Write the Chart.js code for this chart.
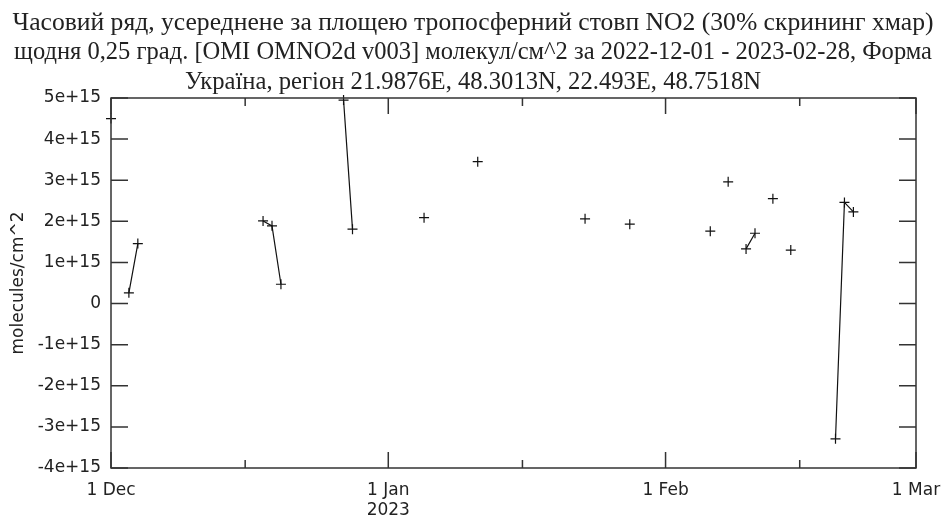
<!DOCTYPE html>
<html>
<head>
<meta charset="utf-8">
<script src="https://cdn.jsdelivr.net/npm/chart.js@4.4.1/dist/chart.umd.min.js"></script>
<style>
  html, body { margin: 0; padding: 0; background: #fff; }
  #no2 { display: block; }
</style>
</head>
<body>
<canvas id="no2" width="946" height="522"></canvas>
<script>
// daily area-averaged tropospheric NO2 column, days without retrieval are absent
const obsDates = [
  '2022-12-01', '2022-12-03', '2022-12-04', '2022-12-18', '2022-12-19', '2022-12-20',
  '2022-12-27', '2022-12-28', '2023-01-05', '2023-01-11', '2023-01-23', '2023-01-28',
  '2023-02-06', '2023-02-08', '2023-02-10', '2023-02-11', '2023-02-13', '2023-02-15',
  '2023-02-20', '2023-02-21', '2023-02-22'
];
const no2Values = [
  4.50e15, 0.26e15, 1.46e15, 2.01e15, 1.89e15, 0.47e15,
  4.95e15, 1.81e15, 2.09e15, 3.45e15, 2.06e15, 1.93e15,
  1.76e15, 2.96e15, 1.33e15, 1.71e15, 2.55e15, 1.30e15,
  -3.29e15, 2.46e15, 2.23e15
];

const startDate = '2022-12-01';
const endDate = '2023-03-01';
const majorTickDates = ['2022-12-01', '2023-01-01', '2023-02-01', '2023-03-01'];
const majorTickLabels = ['1 Dec', ['1 Jan', '2023'], '1 Feb', '1 Mar'];
const minorTickDates = ['2022-12-16', '2023-01-16', '2023-02-16'];
const yTicks = [-4e15, -3e15, -2e15, -1e15, 0, 1e15, 2e15, 3e15, 4e15, 5e15];

const titleLines = [
  'Часовий ряд, усереднене за площею тропосферний стовп NO2 (30% скрининг хмар)',
  'щодня 0,25 град. [OMI OMNO2d v003] молекул/см^2 за 2022-12-01 - 2023-02-28, Форма',
  'Україна, регіон 21.9876E, 48.3013N, 22.493E, 48.7518N'
];

const DAY = 86400000;
const dayIndex = s => (Date.parse(s + 'T00:00:00Z') - Date.parse(startDate + 'T00:00:00Z')) / DAY;

// one slot per calendar day so that only consecutive days get joined
const nDays = dayIndex(endDate);
const series = [];
for (let d = 0; d < nDays; d++) series.push({ x: d, y: null });
obsDates.forEach((s, i) => { series[dayIndex(s)].y = no2Values[i]; });

const majorTicks = majorTickDates.map(dayIndex);
const minorTicks = minorTickDates.map(dayIndex);

const fmtSci = v => {
  if (v === 0) return '0';
  return (v / 1e15) + 'e+15';
};

const axisFont = { family: "'DejaVu Sans', sans-serif", size: 17 };

// condensed serif title, each line squeezed into its own width
const titlePlugin = {
  id: 'narrowTitle',
  afterDraw(chart) {
    const { ctx, width } = chart;
    const maxW = [921, 918, 576];
    ctx.save();
    ctx.fillStyle = '#222';
    ctx.font = "26px 'Liberation Serif', serif";
    ctx.textAlign = 'center';
    ctx.textBaseline = 'alphabetic';
    titleLines.forEach((t, i) => {
      ctx.fillText(t, width / 2, 29.5 + i * 29.5, maxW[i]);
    });
    ctx.restore();
  }
};

// gnuplot-like frame: box on four sides, ticks pointing inward
const framePlugin = {
  id: 'frame',
  afterDatasetsDraw(chart) {
    const { ctx, chartArea: a, scales: { x, y } } = chart;
    ctx.save();
    ctx.strokeStyle = '#333';
    ctx.lineWidth = 1.5;
    ctx.strokeRect(a.left, a.top, a.right - a.left, a.bottom - a.top);
    ctx.beginPath();
    yTicks.forEach(v => {
      const py = y.getPixelForValue(v);
      ctx.moveTo(a.left, py); ctx.lineTo(a.left + 17, py);
      ctx.moveTo(a.right, py); ctx.lineTo(a.right - 17, py);
    });
    majorTicks.forEach(v => {
      const px = x.getPixelForValue(v);
      ctx.moveTo(px, a.bottom); ctx.lineTo(px, a.bottom - 16);
      ctx.moveTo(px, a.top); ctx.lineTo(px, a.top + 16);
    });
    minorTicks.forEach(v => {
      const px = x.getPixelForValue(v);
      ctx.moveTo(px, a.bottom); ctx.lineTo(px, a.bottom - 8);
      ctx.moveTo(px, a.top); ctx.lineTo(px, a.top + 8);
    });
    ctx.stroke();
    ctx.restore();
  }
};

new Chart(document.getElementById('no2'), {
  type: 'line',
  data: {
    datasets: [{
      data: series,
      borderColor: '#111',
      borderWidth: 1.2,
      pointStyle: 'cross',
      pointRadius: 5,
      pointBorderWidth: 1.2,
      pointBorderColor: '#111',
      pointHoverRadius: 5,
      spanGaps: false,
      tension: 0,
      clip: false
    }]
  },
  options: {
    responsive: false,
    animation: false,
    layout: { padding: { top: 98, left: 0, right: 0, bottom: 0 } },
    plugins: {
      legend: { display: false },
      tooltip: { enabled: false },
      title: { display: false }
    },
    scales: {
      x: {
        type: 'linear',
        min: 0,
        max: nDays,
        grid: { display: false, drawTicks: false },
        border: { display: false },
        afterBuildTicks: s => { s.ticks = majorTicks.map(v => ({ value: v })); },
        afterFit: s => { s.height = 54; s.paddingRight = 30; },
        ticks: {
          padding: 12,
          color: '#222',
          maxRotation: 0,
          autoSkip: false,
          font: axisFont,
          callback: v => majorTickLabels[majorTicks.indexOf(v)]
        }
      },
      y: {
        min: -4e15,
        max: 5e15,
        grid: { display: false, drawTicks: false },
        border: { display: false },
        afterBuildTicks: s => { s.ticks = yTicks.map(v => ({ value: v })); },
        afterFit: s => { s.width = 111; },
        title: {
          display: true,
          text: 'molecules/cm^2',
          color: '#222',
          font: axisFont,
          padding: { top: 8, bottom: 0 }
        },
        ticks: {
          padding: 10,
          color: '#222',
          font: axisFont,
          callback: v => fmtSci(v)
        }
      }
    }
  },
  plugins: [framePlugin, titlePlugin]
});
</script>
</body>
</html>
